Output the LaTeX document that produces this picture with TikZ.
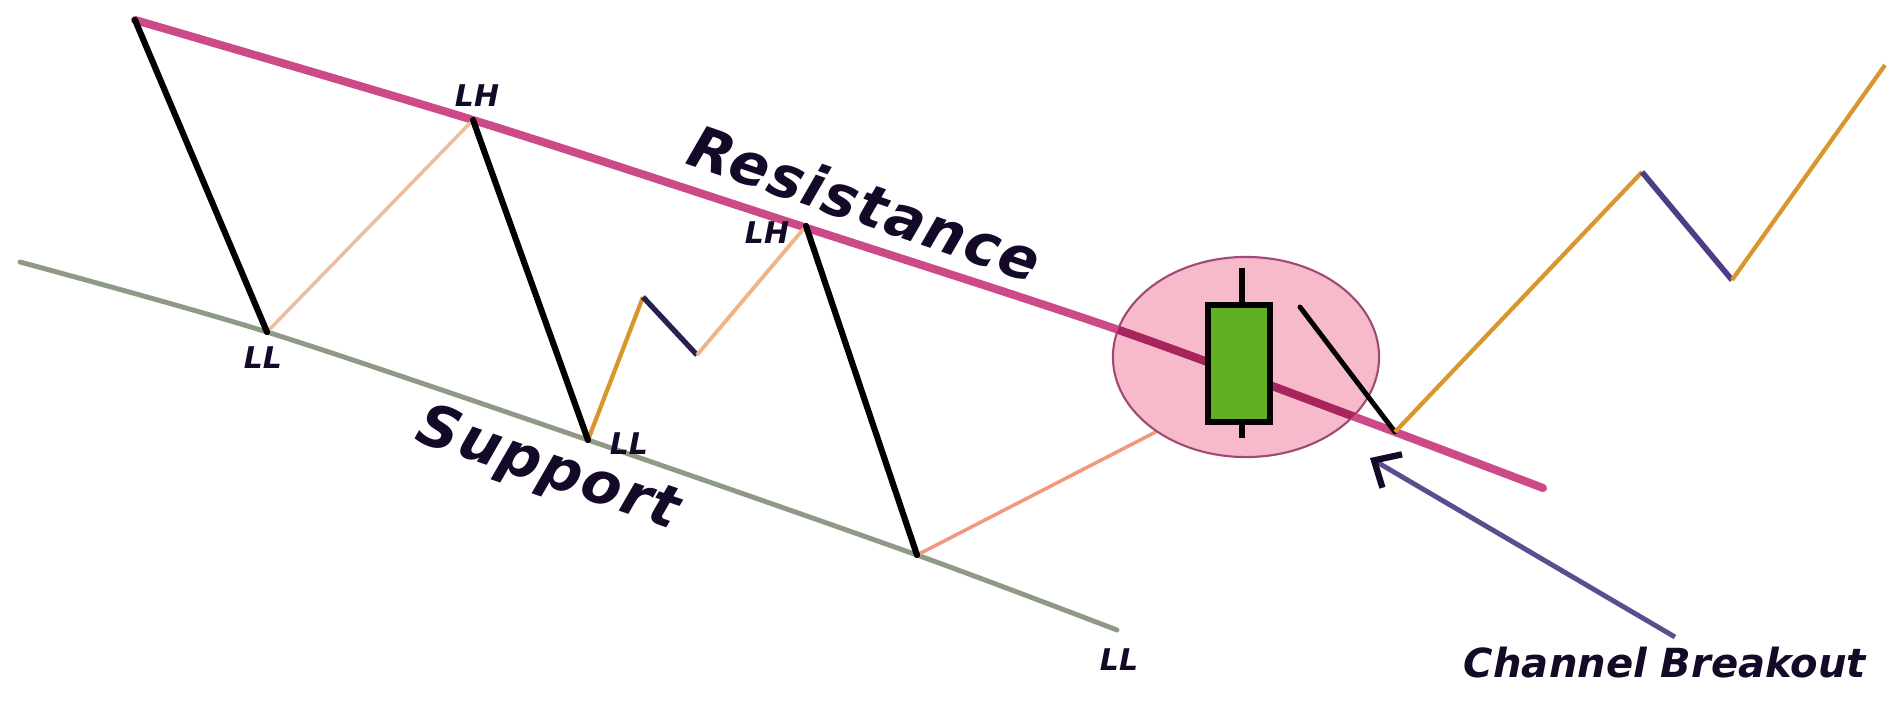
\documentclass[tikz,border=0pt]{standalone}
\usepackage{fontspec}
\setmainfont{DejaVu Sans}
\usetikzlibrary{arrows.meta,shapes.geometric}
\definecolor{resist}{HTML}{CC4A88}
\definecolor{resistdark}{HTML}{A8245C}
\definecolor{supp}{HTML}{8E9A86}
\definecolor{peach}{HTML}{EDBE9E}
\definecolor{upor}{HTML}{D8962C}
\definecolor{downpur}{HTML}{4E3C86}
\definecolor{navy}{HTML}{2A2050}
\definecolor{ellfill}{HTML}{F6BACB}
\definecolor{elldraw}{HTML}{A04876}
\definecolor{candle}{HTML}{5FAE24}
\definecolor{arrowc}{HTML}{5A4E8E}
\definecolor{txt}{HTML}{140A28}
\begin{document}
\begin{tikzpicture}[x=0.01cm,y=-0.01cm,
  blackleg/.style={line width=1.75pt,black,line cap=round},
  lbl/.style={text=txt,font=\fontsize{8.5}{9}\selectfont\bfseries\itshape,inner sep=0pt},
  bigtxt/.style={text=txt,font=\fontsize{16.5}{17}\selectfont\bfseries\itshape\addfontfeature{LetterSpace=3},inner sep=0pt},
  midtxt/.style={text=txt,font=\fontsize{11.4}{12}\selectfont\bfseries\itshape,inner sep=0pt}]
\useasboundingbox (0,0) rectangle (1902,705);
\fill[white] (0,0) rectangle (1902,705);

% key points
\coordinate (top) at (135,20);
\coordinate (ll1) at (267,332);
\coordinate (lh1) at (473,120);
\coordinate (ll2) at (588,440);
\coordinate (p1) at (643,297);
\coordinate (p2) at (697,355);
\coordinate (lh2) at (806,226);
\coordinate (ll3) at (917,555);
\coordinate (c1) at (1208,405);
\coordinate (d1) at (1300,307);
\coordinate (brk) at (1395,432);
\coordinate (q1) at (1642,172);
\coordinate (q2) at (1732,280);
\coordinate (q3) at (1885,65);
\coordinate (atail) at (1675,637);
\coordinate (ahead) at (1370,458);

% support line
\draw[supp,line width=1.4pt,line cap=round] plot[smooth] coordinates {(20,262) (267,332) (588,440) (917,555) (1117,630)};

% rise from LL3 into the candle
\draw[peach!80!red,line width=1pt] (ll3) -- (c1);

% ellipse
\node[ellipse,draw=elldraw,fill=ellfill,line width=0.6pt,minimum width=2.66cm,minimum height=2.0cm,inner sep=0pt] (ell) at (1246,357) {};

% resistance line
\draw[resist,line width=2.3pt,line cap=round] plot[smooth] coordinates {(135,20) (473,120) (807,228) (1113,328) (1363,420) (1543,488)};
\begin{scope}
\clip (1246,357) ellipse [x radius=1.33cm, y radius=1cm];
\draw[resistdark,line width=2.3pt] plot[smooth] coordinates {(135,20) (473,120) (807,228) (1113,328) (1363,420) (1543,488)};
\end{scope}

% price swings
\draw[peach,line width=1pt] (ll1) -- (lh1);
\draw[upor,line width=1.2pt] (ll2) -- (p1);
\draw[navy,line width=1.5pt] (p1) -- (p2);
\draw[peach!85!orange,line width=1.1pt] (p2) -- (lh2);
\draw[blackleg] (top) -- (ll1);
\draw[blackleg] (lh1) -- (ll2);
\draw[blackleg] (lh2) -- (ll3);

% candlestick
\draw[black,line width=1.5pt] (1242,268) -- (1242,438);
\node[draw=black,fill=candle,line width=1.5pt,minimum width=0.62cm,minimum height=1.17cm,inner sep=0pt] (body) at (1239,363.5) {};

% breakout move
\draw[blackleg,line width=1.4pt] (d1) -- (brk);
\draw[upor,line width=1.2pt] (brk) -- (q1);
\draw[downpur,line width=1.6pt] (q1) -- (q2);
\draw[upor,line width=1.2pt] (q2) -- (q3);

% arrow
\draw[arrowc,line width=1.4pt,-{Straight Barb[length=6pt,width=11pt,color=txt,line width=1.8pt]}] (atail) -- (ahead);

% labels
\node[lbl] (tlh1) at (477,96) {LH};
\node[lbl] (tlh2) at (767,233) {LH};
\node[lbl] (tll1) at (263,358) {LL};
\node[lbl] (tll2) at (629,444) {LL};
\node[lbl] (tll3) at (1119,660) {LL};
\node[bigtxt,rotate=-19] (tres) at (865,203) {Resistance};
\node[bigtxt,rotate=-19] (tsup) at (548,470) {Support};
\node[midtxt] (tcb) at (1665,663) {Channel Breakout};
\end{tikzpicture}
\end{document}
